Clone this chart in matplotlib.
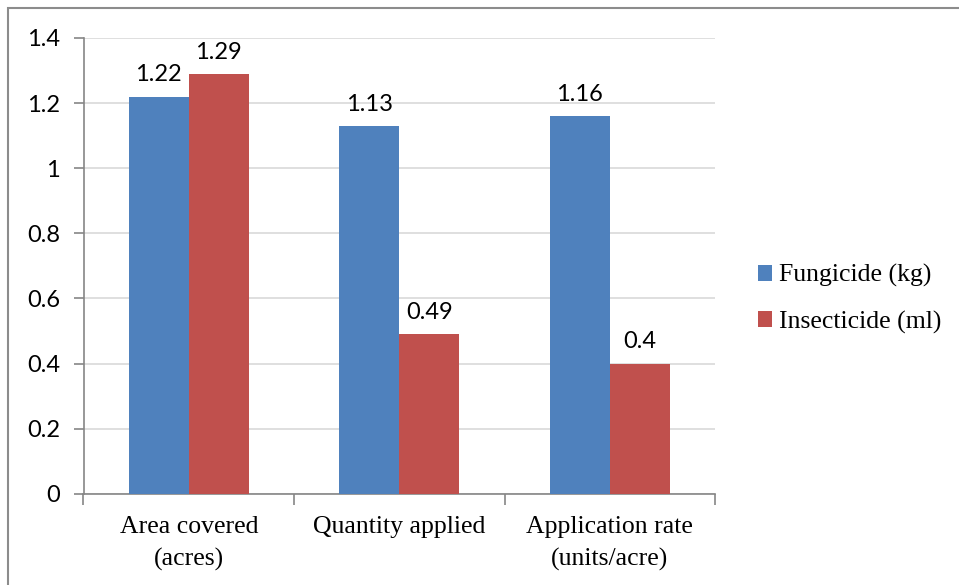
import matplotlib.pyplot as plt
import numpy as np
from matplotlib.patches import Rectangle

categories = ['Area covered\n(acres)', 'Quantity applied', 'Application rate\n(units/acre)']
fungicide = [1.22, 1.13, 1.16]
insecticide = [1.29, 0.49, 0.4]
series_names = ['Fungicide (kg)', 'Insecticide (ml)']
yticks = [0, 0.2, 0.4, 0.6, 0.8, 1, 1.2, 1.4]
ytick_labels = ['0', '0.2', '0.4', '0.6', '0.8', '1', '1.2', '1.4']

blue = '#4F81BD'
red = '#C0504D'
axis_grey = '#868686'
sans = 'Lato'
serif = 'Liberation Serif'

fig = plt.figure(figsize=(9.59, 5.85), dpi=100)
ax = fig.add_axes([83.5/959, 1 - 493.7/585, 631.5/959, (493.7 - 38)/585])

x = np.arange(len(categories))
w = 0.286
b1 = ax.bar(x - w/2, fungicide, w, color=blue, zorder=3)
b2 = ax.bar(x + w/2, insecticide, w, color=red, zorder=3)

for bars, vals in ((b1, fungicide), (b2, insecticide)):
    for r, v in zip(bars, vals):
        ax.annotate(f'{v:g}', (r.get_x() + r.get_width()/2, v),
                    xytext=(0, 8), textcoords='offset points',
                    ha='center', va='bottom', fontsize=17, family=sans)

ax.set_xlim(-0.5, 2.5)
ax.set_ylim(0, 1.4)
ax.set_yticks(yticks)
ax.set_yticklabels(ytick_labels, family=sans, fontsize=17)
ax.yaxis.grid(True, color='#d9d9d9', lw=1.2, zorder=0)
ax.set_axisbelow(True)

# category ticks sit on the boundaries between groups
ax.set_xticks([-0.5, 0.5, 1.5, 2.5])
ax.set_xticklabels([])
ax.set_xticks(x, minor=True)
ax.set_xticklabels(categories, minor=True, family=serif, fontsize=18.5, linespacing=1.55)
ax.tick_params(axis='x', which='minor', length=0, pad=16)
ax.tick_params(axis='x', which='major', length=8, width=1.2, color=axis_grey, direction='out')
ax.tick_params(axis='y', length=7, width=1.2, color=axis_grey, pad=10)

for s in ('top', 'right'):
    ax.spines[s].set_visible(False)
for s in ('left', 'bottom'):
    ax.spines[s].set_color(axis_grey)
    ax.spines[s].set_linewidth(1.2)

leg = fig.legend([b1, b2], series_names, loc='center left',
                 bbox_to_anchor=(735/959, 1 - 299/585), frameon=False,
                 handlelength=0.55, handleheight=0.55, handletextpad=0.25,
                 labelspacing=0.9, prop={'family': serif, 'size': 18.5})

# outer chart frame
fig.patches.append(Rectangle((8/959, -0.01), 2, 1 - 8/585 + 0.01, transform=fig.transFigure,
                             fill=False, edgecolor='#8c8c8c', lw=1.5))

fig.savefig('out.png', dpi=100)
